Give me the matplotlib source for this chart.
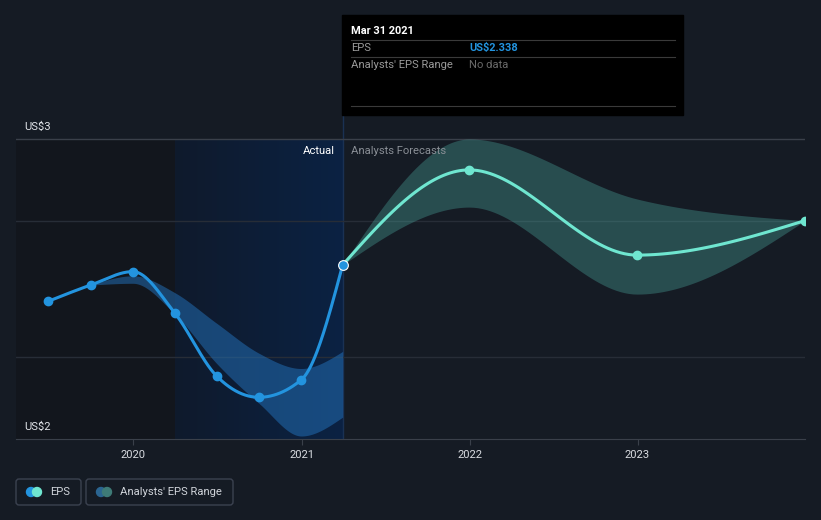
import matplotlib
matplotlib.use("Agg")
import matplotlib.pyplot as plt
import matplotlib.dates as mdates
import numpy as np
import pandas as pd
from matplotlib.colors import LinearSegmentedColormap
from matplotlib.patches import Rectangle, FancyBboxPatch, Circle

plt.rcParams['font.family'] = ['Roboto', 'DejaVu Sans']

# reported EPS (quarterly, trailing)
eps_dates = ["2019-06-30", "2019-09-30", "2019-12-31", "2020-03-31",
             "2020-06-30", "2020-09-30", "2020-12-31", "2021-03-31"]
eps_values = [2.459, 2.513, 2.558, 2.420, 2.210, 2.139, 2.197, 2.580]

# past analyst range
past_rng_dates = ["2019-09-30", "2019-12-31", "2020-03-31", "2020-06-30",
                  "2020-09-30", "2020-12-31", "2021-03-31"]
past_rng_high = [2.513, 2.544, 2.488, 2.386, 2.286, 2.235, 2.292]
past_rng_low = [2.513, 2.519, 2.417, 2.252, 2.119, 2.010, 2.073]

# forecasts
fc_dates = ["2021-03-31", "2021-12-31", "2022-12-31", "2023-12-31"]
fc_values = [2.580, 2.897, 2.613, 2.728]
fc_high = [2.580, 3.000, 2.800, 2.728]
fc_low = [2.580, 2.773, 2.483, 2.728]

year_ticks = ["2020", "2021", "2022", "2023"]
grid_levels = [2.727, 2.273]

BG = "#151b24"
BLUE = "#2394df"
TEAL = "#6fe6d0"
FS = 8.1


def monotone_curve(x, y, n=40):
    """d3 style monotoneX smoothing, only for drawing"""
    x = np.asarray(x, float)
    y = np.asarray(y, float)
    h = np.diff(x)
    s = np.diff(y) / h
    m = np.zeros_like(y)
    for i in range(1, len(y) - 1):
        p = (s[i - 1] * h[i] + s[i] * h[i - 1]) / (h[i - 1] + h[i])
        m[i] = (np.sign(s[i - 1]) + np.sign(s[i])) * min(abs(s[i - 1]), abs(s[i]), 0.5 * abs(p))
    m[0] = (3 * s[0] - m[1]) / 2
    m[-1] = (3 * s[-1] - m[-2]) / 2
    xs, ys = [], []
    for i in range(len(h)):
        t = np.linspace(0, 1, n, endpoint=(i == len(h) - 1))
        h00 = 2 * t**3 - 3 * t**2 + 1
        h10 = t**3 - 2 * t**2 + t
        h01 = -2 * t**3 + 3 * t**2
        h11 = t**3 - t**2
        ys.append(h00 * y[i] + h10 * h[i] * m[i] + h01 * y[i + 1] + h11 * h[i] * m[i + 1])
        xs.append(x[i] + t * h[i])
    return np.concatenate(xs), np.concatenate(ys)


def dn(dates):
    return mdates.date2num(pd.to_datetime(dates))


fig = plt.figure(figsize=(8.21, 5.20), dpi=100, facecolor=BG)
ax = fig.add_axes([16 / 821, 81 / 520, 789 / 821, 324 / 520])
ax.set_facecolor(BG)

x_left = dn(["2019-04-21"])[0]
x_right = dn(["2023-12-31"])[0]
ax.set_xlim(x_left, x_right)
ax.set_ylim(2.0, 3.08)

split_past = dn(["2020-03-31"])[0]
split_now = dn(["2021-03-31"])[0]

# background regions
ax.add_patch(Rectangle((x_left, 2.0), split_past - x_left, 1.0, color="#12161d", zorder=0, lw=0))
navy = LinearSegmentedColormap.from_list("navy", ["#0f1a2c", "#0b2243"])
ax.imshow(np.linspace(0, 1, 100).reshape(1, -1), cmap=navy, aspect="auto",
          extent=[split_past, split_now, 2.0, 3.0], zorder=0.5)
ax.axvline(split_now, color="#1a3153", lw=1, zorder=1)

# gridlines
ax.axhline(3.0, color="#3a404a", lw=1, zorder=1)
for g in grid_levels:
    ax.axhline(g, color="#272d37", lw=1, zorder=1)

# past range band
bx, bh = monotone_curve(dn(past_rng_dates), past_rng_high)
_, bl = monotone_curve(dn(past_rng_dates), past_rng_low)
ax.fill_between(bx, bl, bh, color="#2373bd", alpha=0.5, lw=0, zorder=2)

# forecast band
fx, fh = monotone_curve(dn(fc_dates), fc_high)
_, fl = monotone_curve(dn(fc_dates), fc_low)
ax.fill_between(fx, fl, fh, color="#4fb3a9", alpha=0.33, lw=0, zorder=2)

# lines
ex, ey = monotone_curve(dn(eps_dates), eps_values)
ax.plot(ex, ey, color=BLUE, lw=2.2, zorder=4, solid_capstyle="round")
ax.plot(dn(eps_dates)[:-1], eps_values[:-1], "o", color=BLUE, ms=6, zorder=5)

cx, cy = monotone_curve(dn(fc_dates), fc_values)
ax.plot(cx, cy, color=TEAL, lw=2.2, zorder=4)
ax.plot(dn(fc_dates)[1:], fc_values[1:], "o", color=TEAL, ms=6, zorder=5)
ax.plot(dn(eps_dates)[-1], eps_values[-1], "o", color=BLUE, ms=7,
        markeredgecolor="white", markeredgewidth=0.8, zorder=6)

# axes styling
for sp in ["top", "right", "left"]:
    ax.spines[sp].set_visible(False)
ax.spines["bottom"].set_color("#3a404a")
ax.set_yticks([])
ax.set_xticks(dn([y + "-01-01" for y in year_ticks]))
ax.set_xticklabels(year_ticks)
ax.tick_params(axis="x", colors="#3a404a", length=4, pad=4, labelcolor="#d8dbe0", labelsize=FS)

# overlay in pixel coordinates
ov = fig.add_axes([0, 0, 1, 1])
ov.set_xlim(0, 821)
ov.set_ylim(520, 0)
ov.axis("off")

ov.text(24, 127, "US$3", color="#e0e3e8", fontsize=FS, va="center")
ov.text(24, 427, "US$2", color="#e0e3e8", fontsize=FS, va="center")
ov.text(335, 151, "Actual", color="#ffffff", fontsize=FS, va="center", ha="right")
ov.text(351, 151, "Analysts Forecasts", color="#8a8f96", fontsize=FS, va="center")

# tooltip
ov.add_patch(Rectangle((342, 15), 341, 100, color="#000000", zorder=3))
for yy in [40, 57, 106]:
    ov.plot([351, 675], [yy, yy], color="#3a3a3a", lw=0.8, zorder=4)
ov.text(351, 31, "Mar 31 2021", color="white", fontsize=7.9, fontweight="bold", va="center", zorder=5)
ov.text(351, 48, "EPS", color="#9a9a9a", fontsize=FS, va="center", zorder=5)
ov.text(469, 48, "US$2.338", color=BLUE, fontsize=7.9, fontweight="bold", va="center", zorder=5)
ov.text(351, 65, "Analysts' EPS Range", color="#9a9a9a", fontsize=FS, va="center", zorder=5)
ov.text(469, 65, "No data", color="#6a6a6a", fontsize=FS, va="center", zorder=5)

# legend
for x0, w in [(16, 65), (86, 147)]:
    ov.add_patch(FancyBboxPatch((x0, 479), w, 26, boxstyle="round,pad=0,rounding_size=3",
                                fc="none", ec="#3b4250", lw=1))
ov.add_patch(Circle((31, 492), 4.5, color=BLUE))
ov.add_patch(Circle((37, 492), 4.5, color=TEAL))
ov.add_patch(Circle((101, 492), 4.5, color="#2b6591"))
ov.add_patch(Circle((107, 492), 4.5, color="#3e7b77"))
ov.text(50, 492, "EPS", color="#d0d4da", fontsize=FS, va="center")
ov.text(120, 492, "Analysts' EPS Range", color="#d0d4da", fontsize=FS, va="center")

fig.savefig("out.png", dpi=100, facecolor=BG)
